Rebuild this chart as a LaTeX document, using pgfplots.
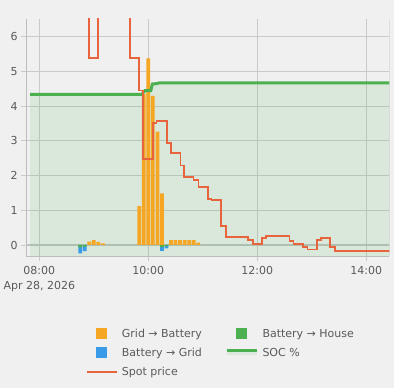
\documentclass[border=0pt]{standalone}
\usepackage{fontspec}
\setmainfont{DejaVu Sans}
\usepackage{pgfplots}
\pgfplotsset{compat=1.18}
\definecolor{bg}{HTML}{F0F0F0}
\definecolor{gridc}{HTML}{CACACA}
\definecolor{axc}{HTML}{BDBDBD}
\definecolor{zeroc}{HTML}{BFC3BF}
\definecolor{txt}{HTML}{5A5A5A}
\definecolor{gbat}{HTML}{F5A623}
\definecolor{bgrid}{HTML}{3A9BE8}
\definecolor{bhouse}{HTML}{4CAF50}
\definecolor{socc}{HTML}{4CAF50}
\definecolor{socf}{HTML}{DCE8DC}
\definecolor{spot}{HTML}{E8643C}
\begin{document}
\begin{tikzpicture}[font=\fontsize{11bp}{13bp}\selectfont]
\fill[bg] (0,0) rectangle (394bp,388bp);
\path[use as bounding box] (0,0) rectangle (394bp,388bp);
\begin{axis}[
  at={(26.3bp,132bp)}, anchor=south west,
  scale only axis, width=363bp, height=237bp,
  xmin=7.7615, xmax=14.422, ymin=-0.317, ymax=6.513,
  axis x line*=bottom, axis y line*=left,
  axis line style={draw=axc, line width=0.8bp},
  xtick={8,10,12,14},
  xticklabels={{08:00\\Apr 28, 2026},{10:00},{12:00},{14:00}},
  xticklabel style={align=center, text=txt, inner sep=0pt, yshift=-5bp,
    font=\fontsize{11bp}{15bp}\selectfont},
  ytick={0,1,2,3,4,5,6},
  yticklabel style={text=txt, inner sep=0pt, xshift=-3.1bp},
  /pgf/number format/assume math mode=true,
  grid=major, major grid style={draw=gridc, line width=0.8bp},
  tick style={draw=gridc, line width=0.8bp},
  tick align=outside, major tick length=5.5bp,
  extra y ticks={0}, extra y tick labels={},
  extra y tick style={grid=major, major grid style={draw=zeroc, line width=1.6bp}},
]
% SOC fill
\addplot[fill=socc, fill opacity=0.13, draw=none] coordinates {
 (7.833,-1) (7.833,4.34) (9.877,4.34) (9.94,4.45) (10.045,4.45) (10.075,4.64)
 (10.15,4.65) (10.2,4.67) (14.6,4.67) (14.6,-1)};
% bars: Battery -> Grid
\addplot[ybar, bar width=0.068, bar shift=0pt, fill=bgrid, draw=none] coordinates {
 (8.75,-0.24) (8.833,-0.18) (10.25,-0.17) (10.333,-0.10)};
% Battery -> House
\addplot[ybar, bar width=0.068, bar shift=0pt, fill=bhouse, draw=none] coordinates {
 (8.75,-0.07) (8.833,-0.05) (10.25,-0.06) (10.333,-0.03)};
% Grid -> Battery
\addplot[ybar, bar width=0.068, bar shift=0pt, fill=gbat, draw=none] coordinates {
 (8.917,0.10) (9.0,0.14) (9.083,0.09) (9.167,0.05)
 (9.833,1.12) (9.917,4.35) (10.0,5.38) (10.083,4.3) (10.167,3.27) (10.25,1.49)
 (10.417,0.14) (10.5,0.14) (10.583,0.14) (10.667,0.14) (10.75,0.14) (10.833,0.14) (10.917,0.07)};
% SOC line
\addplot[socc, line width=3bp] coordinates {
 (7.833,4.34) (9.877,4.34) (9.94,4.45) (10.045,4.45) (10.075,4.64)
 (10.15,4.65) (10.2,4.67) (14.6,4.67)};
% spot price
\addplot[const plot, spot, line width=1.8bp] coordinates {
 (7.833,7.2) (8.912,5.38) (9.083,7.2) (9.664,5.38) (9.835,4.45) (9.908,2.48)
 (10.08,3.51) (10.15,3.58) (10.34,2.93) (10.42,2.66) (10.59,2.29) (10.655,1.95)
 (10.83,1.87) (10.92,1.66) (11.09,1.32) (11.16,1.30) (11.33,0.55) (11.42,0.24)
 (11.835,0.15) (11.92,0.02) (12.085,0.21) (12.165,0.26) (12.59,0.125) (12.665,0.02)
 (12.835,-0.05) (12.92,-0.13) (13.09,0.15) (13.17,0.21) (13.34,-0.05) (13.43,-0.17)
 (14.6,-0.17)};
\draw[axc, line width=0.8bp] (rel axis cs:1,0) -- (rel axis cs:1,1);
\end{axis}
% legend
\begin{scope}[every node/.style={anchor=base west, inner sep=0pt, text=txt}]
\fill[gbat] (95.5bp,48.8bp) rectangle (106.8bp,59.8bp);
\node at (121.7bp,50.3bp) {Grid → Battery};
\fill[bhouse] (235.7bp,48.8bp) rectangle (247bp,59.8bp);
\node at (262.3bp,50.3bp) {Battery → House};
\fill[bgrid] (95.5bp,29.8bp) rectangle (106.8bp,40.8bp);
\node at (121.7bp,31.3bp) {Battery → Grid};
\fill[socf] (226.7bp,32.5bp) rectangle (256.7bp,37.7bp);
\fill[socc] (226.7bp,36.2bp) rectangle (256.7bp,39.2bp);
\node at (262.3bp,31.3bp) {SOC \%};
\fill[spot] (86.7bp,15.4bp) rectangle (116.7bp,17.2bp);
\node at (121.7bp,12.3bp) {Spot price};
\end{scope}
\end{tikzpicture}
\end{document}
